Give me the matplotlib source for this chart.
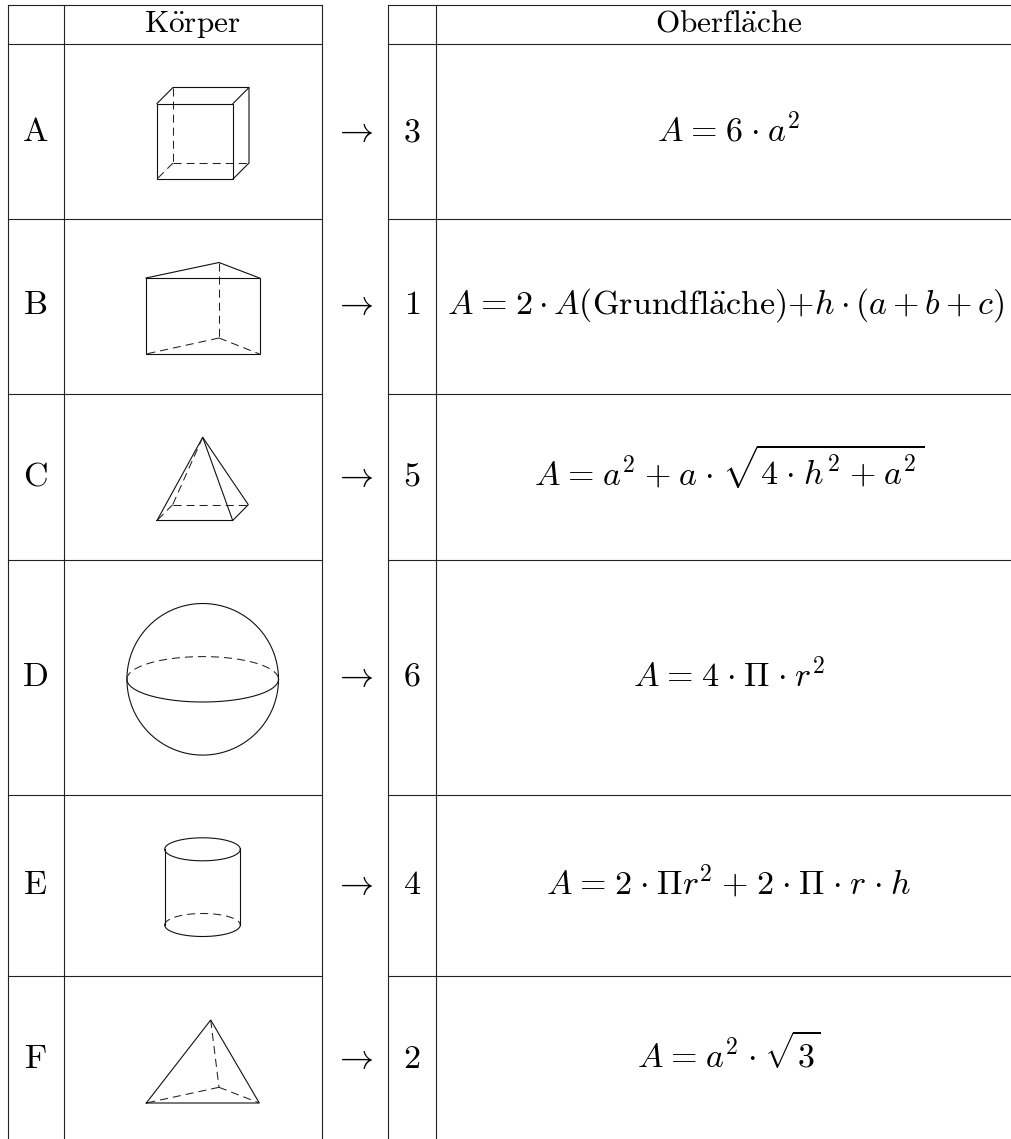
import numpy as np
from matplotlib import pyplot as plt

plt.rcParams['mathtext.fontset'] = 'cm'
plt.rcParams['lines.scale_dashes'] = False

# Tabelleninhalt, ~ steht fuer etwas Luft um die Operatoren
koerper = ['A', 'B', 'C', 'D', 'E', 'F']
nummern = ['3', '1', '5', '6', '4', '2']
formeln = [
    r'$A ~=~ 6 ~\cdot~ a^2$',
    r'$A ~=~ 2 \cdot A(\mathrm{Grundfl\ddot{a}che}){+}h \cdot (a + b + c)$',
    r'$A ~=~ a^2 ~+~ a ~\cdot~ \sqrt{4 ~\cdot~ h^2 ~+~ a^2}$',
    r'$A ~=~ 4 ~\cdot~ \Pi ~\cdot~ r^2$',
    r'$A ~=~ 2 ~\cdot~ \Pi r^2 ~+~ 2 ~\cdot~ \Pi ~\cdot~ r ~\cdot~ h$',
    r'$A ~=~ a^2 ~\cdot~ \sqrt{3}$',
]
kopf_links = r'$\mathrm{K\ddot{o}rper}$'
kopf_rechts = r'$\mathrm{Oberfl\ddot{a}che}$'

# Raster in Pixeln
zeilen_y = [5, 43.5, 218.5, 393.5, 560, 794.5, 975.5]
grundlinien = [141, 314, 486, 686, 894, 1068]
spalten_links = [8, 63.5, 321.5]
spalten_rechts = [387.5, 435.5, 1011]
breite, hoehe = 1011, 1139

# Koerper: (x, y) je Eckpunkt
wuerfel_voll = [[(157, 103.5), (233, 103.5), (233, 179), (157, 179), (157, 103.5)],
                [(157, 103.5), (173, 87.5), (249, 87.5), (233, 103.5)],
                [(249, 87.5), (249, 163), (233, 179)]]
wuerfel_strich = [[(173, 87.5), (173, 163)], [(173, 163), (249, 163)], [(173, 163), (157, 179)]]
prisma_voll = [[(146, 278), (259.5, 278), (259.5, 354), (146, 354), (146, 278)],
               [(146, 278), (219, 262.5), (259.5, 278)]]
prisma_strich = [[(219, 262.5), (219, 338)], [(219, 338), (146, 354)], [(219, 338), (259.5, 354)]]
pyramide_voll = [[(157, 520.5), (202.7, 437.3), (232.7, 520.5), (157, 520.5)],
                 [(202.7, 437.3), (248.3, 504.7), (232.7, 520.5)]]
pyramide_strich = [[(202.7, 437.3), (172.7, 504.7)], [(172.7, 504.7), (248.3, 504.7)],
                   [(172.7, 504.7), (157, 520.5)]]
tetra_voll = [[(146.3, 1103), (210.7, 1020), (259.3, 1103), (146.3, 1103)]]
tetra_strich = [[(210.7, 1020), (219, 1087.3)], [(219, 1087.3), (146.3, 1103)],
                [(219, 1087.3), (259.3, 1103)]]

kugel = (202.7, 679.3, 75.8, 22.7)  # x, y, Radius, Halbachse Aequator
zylinder = (202.5, 164.7, 240.3, 849.3, 925, 11.5)  # Mitte, links, rechts, oben, unten, Halbachse


def Linien(_ax, _liste, _strich=False):
    for _teil in _liste:
        _x = [p[0] for p in _teil]
        _y = [p[1] for p in _teil]
        if _strich:
            _ax.plot(_x, _y, color='#222222', lw=0.75, dashes=(5.8, 3.6), solid_capstyle='butt')
        else:
            _ax.plot(_x, _y, color='#111111', lw=0.8, solid_joinstyle='miter')


def Bogen(_ax, _cx, _cy, _a, _b, _von, _bis, _strich=False):
    _t = np.linspace(_von, _bis, 120)
    _p = list(zip(_cx + _a * np.cos(_t), _cy + _b * np.sin(_t)))
    Linien(_ax, [_p], _strich)


fig = plt.figure(figsize=(breite / 100, hoehe / 100), dpi=100)
ax = fig.add_axes([0, 0, 1, 1])
ax.set_xlim(0, breite)
ax.set_ylim(hoehe, 0)
ax.axis('off')

# Gitter
for y in zeilen_y:
    ax.plot([spalten_links[0], spalten_links[-1]], [y, y], color='#222222', lw=0.8)
    ax.plot([spalten_rechts[0], spalten_rechts[-1]], [y, y], color='#222222', lw=0.8)
for x in spalten_links + spalten_rechts[:2]:
    ax.plot([x, x], [zeilen_y[0], hoehe], color='#222222', lw=0.8)

# Kopfzeile
groesse_kopf = 22.5
groesse = 24.5
ax.text(192.5, 32, kopf_links, fontsize=groesse_kopf, ha='center', va='baseline')
ax.text(729, 32, kopf_rechts, fontsize=groesse_kopf, ha='center', va='baseline')

# Zeilen
for name, nr, formel, y in zip(koerper, nummern, formeln, grundlinien):
    ax.text(35.5, y, '$\\mathrm{%s}$' % name, fontsize=groesse, ha='center', va='baseline')
    ax.text(354.5, y, r'$\rightarrow$', fontsize=groesse, ha='center', va='baseline')
    ax.text(412, y, '$%s$' % nr, fontsize=groesse, ha='center', va='baseline')
    x_mitte = 726 if nr == '1' else 729
    ax.text(x_mitte, y, formel.replace('~', r'\hspace{0.07}'), fontsize=groesse,
            ha='center', va='baseline')

# Koerper zeichnen
Linien(ax, wuerfel_voll)
Linien(ax, wuerfel_strich, True)
Linien(ax, prisma_voll)
Linien(ax, prisma_strich, True)
Linien(ax, pyramide_voll)
Linien(ax, pyramide_strich, True)
Linien(ax, tetra_voll)
Linien(ax, tetra_strich, True)

kx, ky, kr, kb = kugel
Bogen(ax, kx, ky, kr, kr, 0, 2 * np.pi)
Bogen(ax, kx, ky, kr, kb, 0, np.pi)
Bogen(ax, kx, ky, kr, kb, np.pi, 2 * np.pi, True)

zm, zl, zr, zo, zu, zb = zylinder
Bogen(ax, zm, zo, zr - zm, zb, 0, 2 * np.pi)
Bogen(ax, zm, zu, zr - zm, zb, 0, np.pi)
Bogen(ax, zm, zu, zr - zm, zb, np.pi, 2 * np.pi, True)
Linien(ax, [[(zl, zo), (zl, zu)], [(zr, zo), (zr, zu)]])

fig.savefig('out.png', dpi=100)
